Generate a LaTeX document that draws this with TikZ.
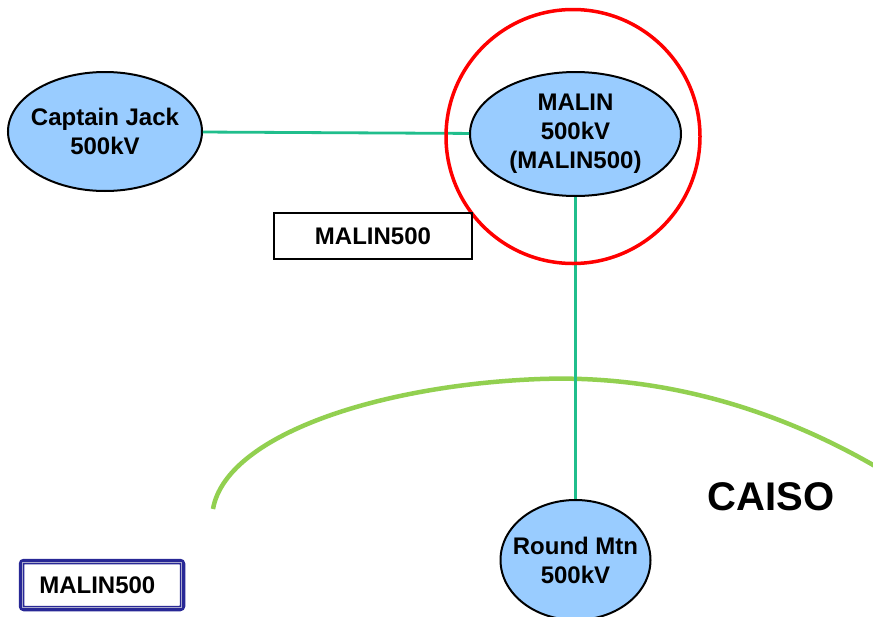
\documentclass[tikz,border=0pt]{standalone}
\usepackage{fontspec}
\setmainfont{Liberation Sans}
\usetikzlibrary{shapes.geometric}
\definecolor{busfill}{RGB}{153,204,255}
\definecolor{linegreen}{RGB}{32,190,140}
\definecolor{arcgreen}{RGB}{146,208,80}
\definecolor{navyblue}{RGB}{40,40,150}
\definecolor{lavender}{RGB}{170,170,205}
\tikzset{
  txt/.style={font=\bfseries\fontsize{24}{29}\selectfont, align=center},
  bus/.style={ellipse, draw=black, line width=2pt, fill=busfill, inner sep=0pt},
  conn/.style={draw=linegreen, line width=2.8pt},
  ring/.style={circle, draw=red, line width=3.5pt, inner sep=0pt, minimum size=254pt},
  tagbox/.style={rectangle, draw=black, line width=2pt, inner sep=0pt, minimum width=198pt, minimum height=46pt, txt},
  keybox/.style={rectangle, draw=navyblue, line width=5.5pt, rounded corners=2.5pt, inner sep=0pt, minimum width=161pt, minimum height=47pt},
  zone/.style={draw=arcgreen, line width=4.5pt}
}
\begin{document}
\begin{tikzpicture}[x=1pt, y=-1pt]
\useasboundingbox (0,0) rectangle (873,616);
\clip (0,0) rectangle (873,616);
\fill[white] (0,0) rectangle (873,616);
% CAISO boundary arc
\draw[zone] (213,509) .. controls (226,435) and (380,385) .. (540,379)
  .. controls (680,374) and (800,420) .. (890,475);
% buses
\node[bus, minimum width=194pt, minimum height=119pt,
  label={[txt]center:Captain Jack\\500kV}] (cj) at (105,131.5) {};
\node[bus, minimum width=211pt, minimum height=124pt,
  label={[txt]center:MALIN\\500kV\\(MALIN500)}] (malin) at (575.5,134) {};
\node[bus, minimum width=150pt, minimum height=120pt,
  label={[txt]center:Round Mtn\\500kV}] (rm) at (575.5,560) {};
% connectors
\draw[conn] (cj) -- (malin);
\draw[conn] (malin) -- (rm);
% highlight ring
\node[ring] (hl) at (573,136.5) {};
% labels
\node[tagbox] (tag) at (373,236) {MALIN500};
\node[font=\bfseries\fontsize{40}{48}\selectfont] (caiso) at (771,497) {CAISO};
\node[keybox] (key) at (102,585) {};
\draw[lavender, line width=1.6pt] ([xshift=3.6pt,yshift=3.6pt]key.south west) rectangle ([xshift=-3.6pt,yshift=-3.6pt]key.north east);
\draw[navyblue, line width=1pt] ([xshift=5pt,yshift=5pt]key.south west) rectangle ([xshift=-5pt,yshift=-5pt]key.north east);
\node[txt, anchor=west] (keytxt) at ([xshift=17pt]key.west) {MALIN500};
\end{tikzpicture}
\end{document}
